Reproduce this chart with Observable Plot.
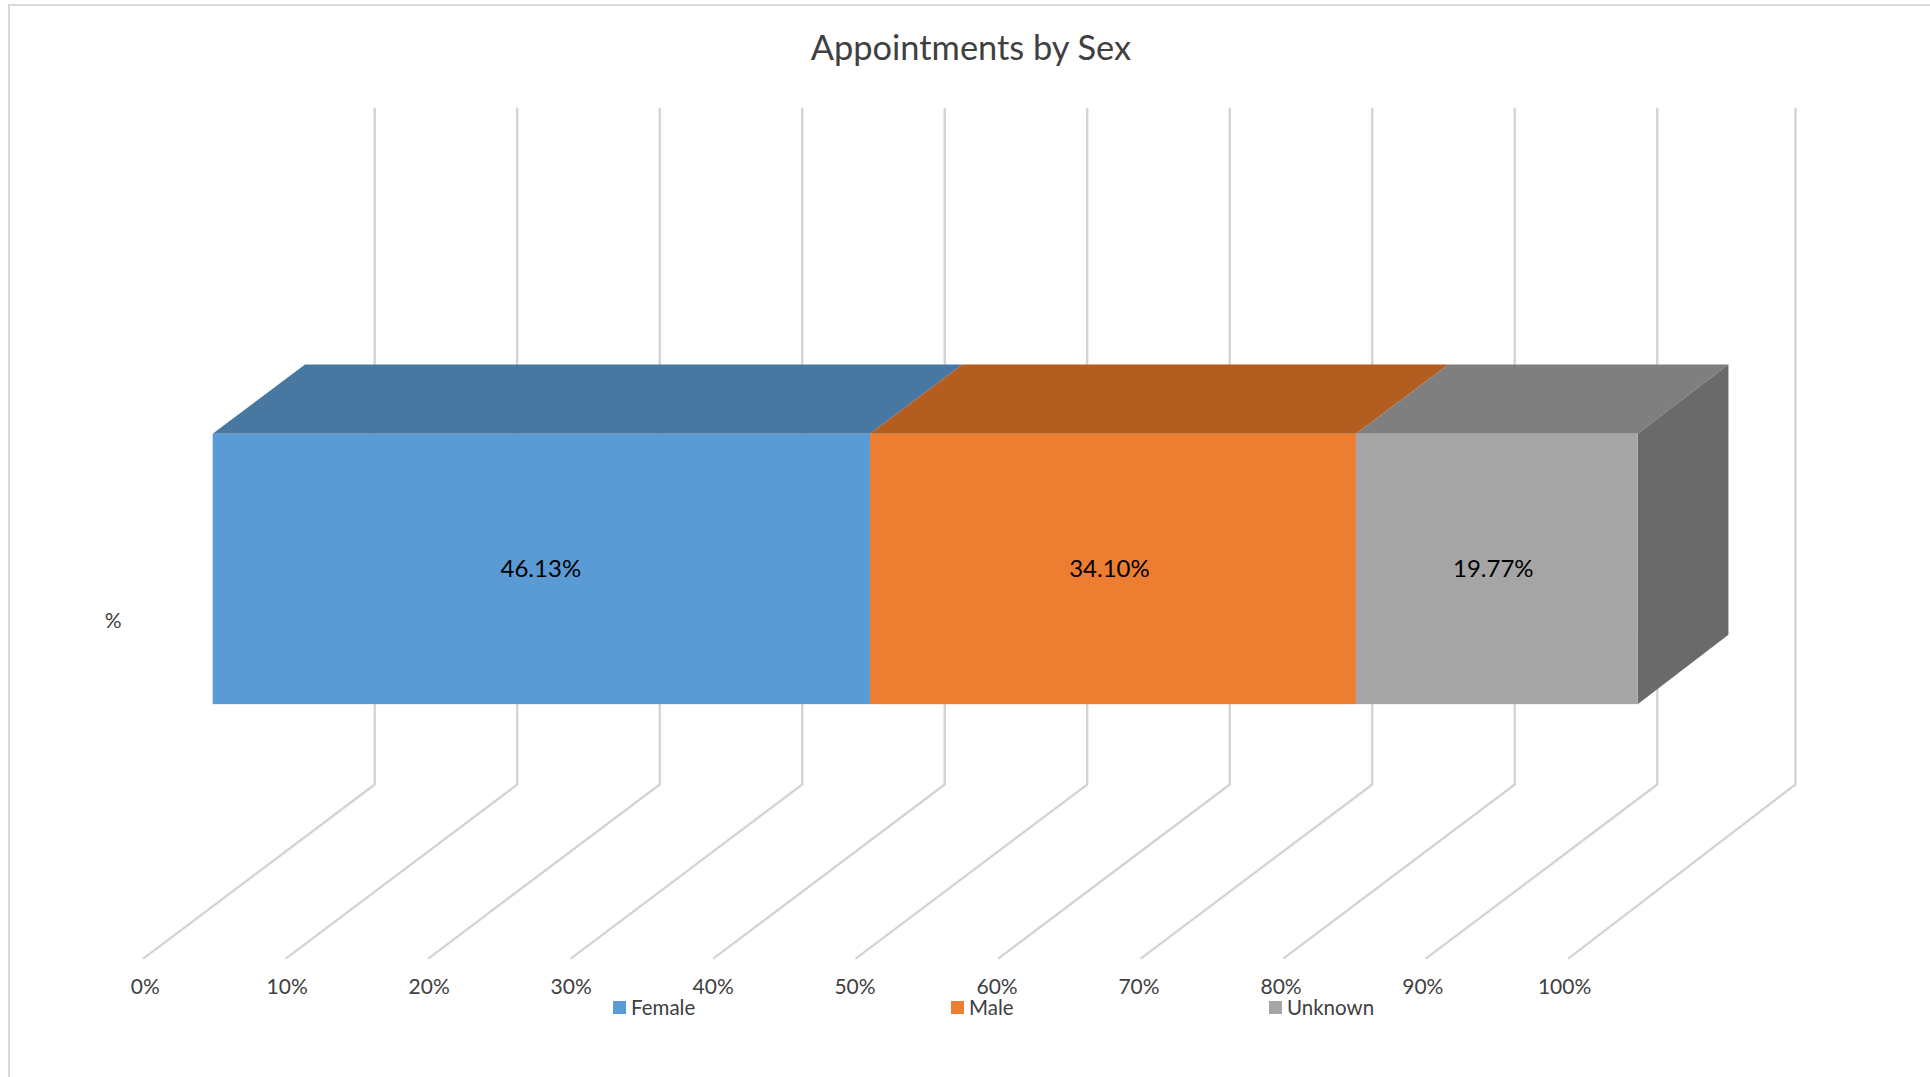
<!DOCTYPE html>
<html>
<head>
<meta charset="utf-8">
<script src="https://cdn.jsdelivr.net/npm/d3@7"></script>
<script src="https://cdn.jsdelivr.net/npm/@observablehq/plot@0.6"></script>
<style>
  html, body { margin: 0; padding: 0; background: #fff; }
  #page { position: relative; width: 1930px; height: 1077px; overflow: hidden; font-family: Lato, sans-serif; }
  #frame { position: absolute; left: 8px; top: 4px; right: -4px; bottom: -4px; border: 2px solid #d9d9d9; }
  #title { position: absolute; left: 0; top: 0; width: 100%; height: 80px; margin: 0; line-height: 94px; text-align: center; font-weight: 400; font-size: 34.4px; color: #404040; transform: translateX(6px); }
  #chart { position: absolute; left: 0; top: 80px; }
  #chart svg { display: block; }
  #legend { position: absolute; left: 0; top: 995px; width: 100%; height: 24px; font-size: 20.5px; color: #404040; }
  .item { position: absolute; top: 0; display: flex; align-items: center; height: 24px; }
  .swatch { width: 13px; height: 13px; margin-right: 5px; }
</style>
</head>
<body>
<div id="page">
  <div id="frame"></div>
  <h2 id="title">Appointments by Sex</h2>
  <div id="chart"></div>
  <div id="legend"></div>
</div>
<script>
const chartTitle = "Appointments by Sex";
const category = "%";
const sexes = ["Female", "Male", "Unknown"];
const shares = [46.13, 34.10, 19.77];
const shareLabels = ["46.13%", "34.10%", "19.77%"];
const ticks = [0, 10, 20, 30, 40, 50, 60, 70, 80, 90, 100];
const tickLabels = ["0%", "10%", "20%", "30%", "40%", "50%", "60%", "70%", "80%", "90%", "100%"];
const tickLabelAt = [0.1, 10.05, 20.02, 29.98, 39.95, 49.9, 59.87, 69.83, 79.8, 89.75, 99.7];
const wallTicks = [0, 10, 20, 30, 40, 50, 60, 70, 80, 90, 99.7];

const frontColors = ["#5b9bd5", "#ed7d31", "#a5a5a5"];
const topColors = ["#4878a2", "#b35d21", "#7f7f7f"];
const sideColor = "#6a6a6a";
const gridColor = "#d4d4d4";
const labelNudge = [-1, -4, -4];
const legendLeft = [613, 951, 1269];

// Oblique projection of the chart's 3-D box onto the plot's x and y scales.
const depthX = 16.2, depthY = 0.257;
const px = (p, z) => p + z * depthX;
const py = (h, z) => h + z * depthY;
const barNear = 0.3, barFar = 0.7, barLow = 0.298, barHigh = 0.698, barEndFar = 99.89;
const depths = [barNear, barFar];
const endAt = (p, z) => (p >= 100 && z === barFar ? barEndFar : p);

let running = 0;
const segments = sexes.map((sex, i) => {
  const a = running; running += shares[i];
  return {sex, a, b: running, label: shareLabels[i], top: topColors[i], nudge: labelNudge[i]};
});

const gridMarks = ticks.map((t, i) => Plot.line(
  [[t, 0, 0], [wallTicks[i], 1, 0], [wallTicks[i], 1, 1]],
  {x: d => px(d[0], d[1]), y: d => py(d[2], d[1]), stroke: gridColor, strokeWidth: 2.4, strokeLinejoin: "miter"}
));

const topMarks = segments.map(s => Plot.areaX(depths, {
  y: z => py(barHigh, z), x1: z => px(s.a, z), x2: z => px(endAt(Math.round(s.b * 100) / 100, z), z), fill: s.top
}));

const sideMark = Plot.areaY(depths, {
  x: z => px(endAt(100, z), z), y1: z => py(barLow, z), y2: z => py(barHigh, z), fill: sideColor
});

const frontMark = Plot.rect(segments, {
  x1: s => px(s.a, barNear), x2: s => px(s.b, barNear),
  y1: () => py(barLow, barNear), y2: () => py(barHigh, barNear),
  fill: "sex"
});

const labelMarks = segments.map(s => Plot.text([s], {
  x: d => px((d.a + d.b) / 2, barNear), y: () => py((barLow + barHigh) / 2, barNear),
  text: "label", dx: s.nudge, fill: "#000", fontSize: 24
}));

const plot = Plot.plot({
  width: 1930, height: 920,
  marginLeft: 130, marginBottom: 30, marginTop: 0, marginRight: 0,
  style: {fontFamily: "Lato, sans-serif", background: "transparent", overflow: "visible"},
  x: {domain: [0, 100], range: [143.4, 1568.4], axis: null},
  y: {domain: [0, 1], range: [877.6, 201.9], axis: null},
  color: {domain: sexes, range: frontColors},
  marks: [
    ...gridMarks,
    ...topMarks,
    sideMark,
    frontMark,
    ...labelMarks,
    Plot.axisX(tickLabelAt, {anchor: "bottom", tickSize: 0, tickFormat: d => tickLabels[tickLabelAt.indexOf(d)], label: null, fontSize: 21, fill: "#404040"}),
    Plot.axisY([0.5], {anchor: "left", tickSize: 0, tickFormat: () => category, label: null, fontSize: 21, fill: "#404040", dy: 1})
  ]
});
document.getElementById("chart").append(plot);
document.getElementById("title").textContent = chartTitle;

const legend = document.getElementById("legend");
sexes.forEach((sex, i) => {
  const item = document.createElement("div");
  item.className = "item";
  item.style.left = legendLeft[i] + "px";
  const sw = document.createElement("span");
  sw.className = "swatch";
  sw.style.background = frontColors[i];
  const tx = document.createElement("span");
  tx.textContent = sex;
  item.append(sw, tx);
  legend.append(item);
});
</script>
</body>
</html>
